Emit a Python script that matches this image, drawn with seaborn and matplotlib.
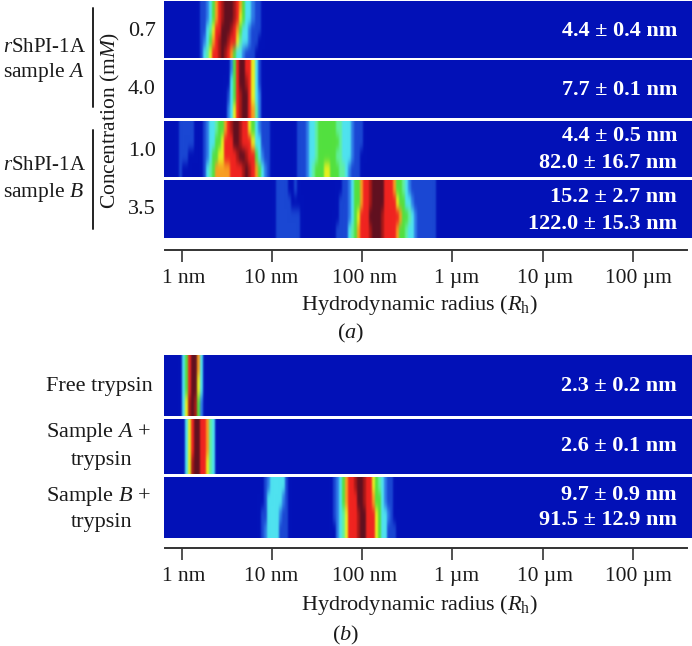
import numpy as np
import seaborn as sns
import matplotlib
matplotlib.use('Agg')
import matplotlib.pyplot as plt
from matplotlib.colors import LinearSegmentedColormap
from matplotlib.lines import Line2D
from matplotlib.transforms import ScaledTranslation

# intensity levels, 0 = background, 10 = darkest peak
# one bin is 1/30 of a decade, first number of each tuple is the first bin
conc_07 = [(11, [[0, 1, 1, 2, 3, 5, 7, 8, 9, 10, 10, 10, 9, 8, 7, 5, 3, 3, 2, 1, 1, 0],
                 [0, 1, 1, 2, 3, 5, 7, 8, 9, 10, 10, 10, 9, 8, 6, 5, 3, 3, 2, 1, 1, 0],
                 [0, 1, 1, 3, 4, 6, 8, 8, 10, 10, 10, 9, 8, 7, 5, 3, 3, 2, 1, 1, 1, 0],
                 [0, 1, 2, 3, 5, 7, 8, 9, 10, 10, 9, 8, 8, 6, 4, 3, 3, 2, 1, 1, 0, 0],
                 [0, 1, 3, 4, 6, 8, 8, 9, 10, 9, 8, 7, 5, 3, 3, 2, 1, 1, 1, 0, 0, 0]])]
conc_40 = [(20, [[0, 0, 2, 5, 8, 10, 10, 8, 8, 6, 3, 1, 0],
                 [0, 0, 3, 5, 8, 10, 10, 9, 8, 6, 3, 1, 0],
                 [0, 1, 3, 5, 8, 9, 10, 10, 8, 6, 3, 2, 0],
                 [0, 2, 3, 6, 8, 9, 10, 10, 8, 7, 4, 2, 0]])]
conc_10 = [(5, [[1, 1, 1, 1, 1, 0, 0, 0, 1, 2, 3, 3, 4, 5, 5, 7, 8, 9, 10, 10, 9, 8, 8, 6, 5, 3, 2, 1, 1, 1, 0],
                [1, 1, 1, 1, 1, 0, 0, 0, 1, 2, 3, 3, 5, 5, 6, 8, 8, 8, 10, 10, 9, 8, 8, 8, 6, 3, 3, 1, 1, 1, 0],
                [1, 1, 1, 0, 0, 0, 0, 0, 1, 2, 3, 5, 5, 6, 6, 8, 8, 8, 8, 9, 10, 10, 9, 8, 8, 5, 3, 2, 1, 1, 0],
                [1, 0, 0, 0, 0, 0, 0, 0, 1, 3, 4, 5, 7, 7, 7, 7, 7, 8, 8, 8, 8, 9, 10, 9, 8, 7, 5, 3, 2, 1, 0]]),
           (44, [[1, 1, 1, 2, 3, 3, 4, 5, 5, 5, 5, 5, 5, 4, 4, 3, 3, 3, 2, 1, 1, 1],
                 [1, 1, 1, 2, 3, 3, 4, 5, 5, 5, 5, 5, 5, 5, 4, 3, 3, 3, 2, 1, 1, 1],
                 [1, 1, 1, 2, 3, 3, 4, 5, 5, 5, 5, 5, 5, 4, 4, 3, 3, 3, 2, 1, 1, 0],
                 [1, 1, 1, 2, 3, 4, 5, 5, 5, 6, 6, 5, 5, 5, 4, 4, 3, 2, 1, 1, 1, 0]])]
conc_35 = [(36, [[0, 1, 1, 1, 1, 0, 0, 1, 0, 0],
                 [0, 1, 1, 1, 1, 1, 0, 0, 0, 0],
                 [0, 1, 1, 1, 1, 1, 1, 1, 1, 0],
                 [0, 1, 1, 1, 1, 1, 1, 1, 1, 0]]),
           (57, [[0, 0, 1, 1, 2, 3, 5, 5, 7, 8, 8, 9, 10, 10, 10, 10, 8, 8, 8, 7, 5, 5, 4, 3, 2, 1, 1, 1, 1, 1, 1, 1, 1, 0],
                 [0, 1, 1, 1, 2, 3, 5, 5, 7, 8, 8, 9, 10, 10, 10, 10, 8, 8, 8, 8, 6, 5, 5, 3, 3, 2, 1, 1, 1, 1, 1, 1, 1, 0],
                 [0, 1, 1, 1, 2, 3, 5, 6, 8, 8, 8, 10, 10, 10, 10, 9, 8, 8, 8, 8, 8, 7, 5, 5, 4, 3, 2, 1, 1, 1, 1, 1, 1, 0],
                 [1, 1, 1, 1, 3, 4, 5, 7, 8, 8, 8, 9, 10, 10, 10, 9, 8, 8, 8, 8, 7, 5, 5, 4, 3, 3, 2, 1, 1, 1, 1, 1, 1, 0]])]
free_trypsin = [(5, [[0, 3, 5, 8, 10, 10, 7, 3, 0],
                     [0, 3, 5, 8, 10, 10, 6, 3, 0],
                     [0, 3, 6, 9, 10, 9, 5, 2, 0]])]
sample_a = [(6, [[0, 3, 6, 8, 10, 10, 8, 8, 7, 4, 3, 0],
                 [0, 3, 6, 8, 10, 10, 8, 8, 7, 4, 3, 0],
                 [0, 3, 6, 9, 10, 10, 8, 8, 6, 4, 3, 0]])]
sample_b = [(32, [[0, 1, 2, 3, 3, 3, 3, 3, 1],
                  [0, 1, 3, 3, 3, 3, 3, 2, 1],
                  [1, 1, 3, 3, 3, 3, 2, 1, 1],
                  [1, 2, 3, 3, 3, 3, 1, 1, 1]]),
            (55, [[0, 1, 2, 3, 5, 7, 8, 8, 9, 10, 10, 9, 8, 8, 6, 5, 4, 3, 2, 1, 1, 0],
                  [0, 1, 2, 3, 5, 7, 8, 8, 8, 10, 10, 9, 8, 8, 7, 5, 5, 3, 2, 1, 1, 0],
                  [0, 1, 2, 3, 4, 6, 8, 8, 8, 9, 10, 10, 8, 8, 8, 6, 5, 3, 3, 2, 1, 0],
                  [0, 0, 2, 3, 4, 6, 8, 8, 8, 9, 10, 10, 8, 8, 8, 6, 5, 3, 3, 1, 1, 1]])]

radius_a = [['4.4 ± 0.4 nm'], ['7.7 ± 0.1 nm'], ['4.4 ± 0.5 nm', '82.0 ± 16.7 nm'], ['15.2 ± 2.7 nm', '122.0 ± 15.3 nm']]
radius_b = [['2.3 ± 0.2 nm'], ['2.6 ± 0.1 nm'], ['9.7 ± 0.9 nm', '91.5 ± 12.9 nm']]
tick_values = [1, 10, 100, 1000, 10000, 100000]
tick_labels = ['1 nm', '10 nm', '100 nm', '1 µm', '10 µm', '100 µm']

W, H = 692, 646
N_BINS = 175
SERIF = 'Liberation Serif'

sns.set_theme(style='white')
plt.rcParams['font.family'] = [SERIF, 'DejaVu Serif']
plt.rcParams['mathtext.fontset'] = 'custom'
plt.rcParams['mathtext.rm'] = SERIF
plt.rcParams['mathtext.it'] = SERIF + ':italic'

dls_cmap = LinearSegmentedColormap.from_list('dls', [
    '#0212b8', '#1a48d4', '#2f7ce8', '#50e4f0', '#60f0a0', '#50e040',
    '#e8f020', '#f8a020', '#f02420', '#a81818', '#601020'])

fig = plt.figure(figsize=(W / 100, H / 100), dpi=100)


def px_axes(x0, y0, x1, y1):
    # axes from picture pixels, y counted from the top
    return fig.add_axes([x0 / W, 1 - y1 / H, (x1 - x0) / W, (y1 - y0) / H])


def put(x, y, s, **kw):
    kw.setdefault('color', '#1a1a1a')
    kw.setdefault('fontsize', 16)
    kw.setdefault('va', 'center')
    fig.text(x / W, 1 - y / H, s, **kw)


def blur_1d(img, sigma, axis):
    r = int(3 * sigma) + 1
    kernel = np.exp(-0.5 * (np.arange(-r, r + 1) / sigma) ** 2)
    kernel /= kernel.sum()
    pad = [(0, 0)] * img.ndim
    pad[axis] = (r, r)
    padded = np.pad(img, pad, mode='edge')
    return np.apply_along_axis(lambda v: np.convolve(v, kernel, mode='valid'), axis, padded)


def soften(image, dpi):
    # render filter only, the scan image in the reference is blurry
    out = blur_1d(image, 1.0, 1)
    out = blur_1d(out, 4.5, 0)
    return out, 0, 0


def draw_strip(bands, y0, y1):
    n_rows = len(bands[0][1])
    grid = np.zeros((n_rows, N_BINS))
    for start, rows in bands:
        rows = np.array(rows)
        grid[:, start:start + rows.shape[1]] = rows
    ax = px_axes(164, y0, 692, y1)
    sns.heatmap(grid, ax=ax, cmap=dls_cmap, vmin=0, vmax=10, cbar=False,
                xticklabels=False, yticklabels=False)
    ax.collections[0].set_agg_filter(soften)


def draw_axis(y):
    ax = px_axes(165, y - 1, 687, y)
    ax.set_xscale('log')
    ax.set_xlim(10 ** ((165 - 181.5) / 90.3), 10 ** ((687 - 181.5) / 90.3))
    ax.set_yticks([])
    ax.set_xticks(tick_values)
    ax.set_xticklabels(tick_labels, fontsize=15.5, color='#1a1a1a')
    ax.minorticks_off()
    ax.tick_params(axis='x', bottom=True, length=8.6, width=1.2, color='#333333', pad=5)
    # the labels sit a little off their ticks in the reference
    for label, dx in zip(ax.get_xticklabels(), [2, -1, 2, 4, 2, 5]):
        label.set_transform(label.get_transform() + ScaledTranslation(dx / 100, 0, fig.dpi_scale_trans))
    sns.despine(ax=ax, left=True, top=True, right=True)
    ax.spines['bottom'].set_linewidth(1.4)
    ax.spines['bottom'].set_color('#333333')


# panel a
draw_strip(conc_07, 1, 58)
draw_strip(conc_40, 60, 118)
draw_strip(conc_10, 121, 177)
draw_strip(conc_35, 180, 238)
draw_axis(250)

# panel b
draw_strip(free_trypsin, 355, 416)
draw_strip(sample_a, 419, 474)
draw_strip(sample_b, 477, 538)
draw_axis(548)

# radius labels inside the strips
label_ys_a = [[31], [90], [136, 163], [197, 224]]
label_ys_b = [[386], [446], [495, 520]]
for labels, ys in zip(radius_a + radius_b, label_ys_a + label_ys_b):
    for s, y in zip(labels, ys):
        put(677, y, s, color='white', fontweight='bold', ha='right')

# left side labels
for s, y in zip(['0.7', '4.0', '1.0', '3.5'], [31, 90, 151, 210]):
    put(142, y, s, ha='center')
put(110, 120, 'Concentration (m$\\mathit{M}$)', rotation=90, ha='center', fontsize=15.5)
put(86, 47, '$\\mathit{r}$ShPI-1A', ha='right', fontsize=15)
put(84, 72, 'sample $\\mathit{A}$', ha='right', fontsize=15.5)
put(86, 165, '$\\mathit{r}$ShPI-1A', ha='right', fontsize=15)
put(84, 192, 'sample $\\mathit{B}$', ha='right', fontsize=15.5)
for y0, y1 in [(8, 107), (130, 229)]:
    fig.add_artist(Line2D([93 / W, 93 / W], [1 - y0 / H, 1 - y1 / H], color='#222222', lw=1.4))

put(153, 387, 'Free trypsin', ha='right')
put(151, 433, 'Sample $\\mathit{A}$ +', ha='right')
put(132, 460, 'trypsin', ha='right')
put(151, 496, 'Sample $\\mathit{B}$ +', ha='right')
put(132, 523, 'trypsin', ha='right')

# axis titles and panel letters
put(419, 305, 'Hydrodynamic radius ($\\mathit{R}_{\\mathrm{h}}$)', ha='center')
put(351, 333, '($\\mathit{a}$)', ha='center')
put(419, 605, 'Hydrodynamic radius ($\\mathit{R}_{\\mathrm{h}}$)', ha='center')
put(346, 635, '($\\mathit{b}$)', ha='center')

fig.savefig('out.png', dpi=100)
